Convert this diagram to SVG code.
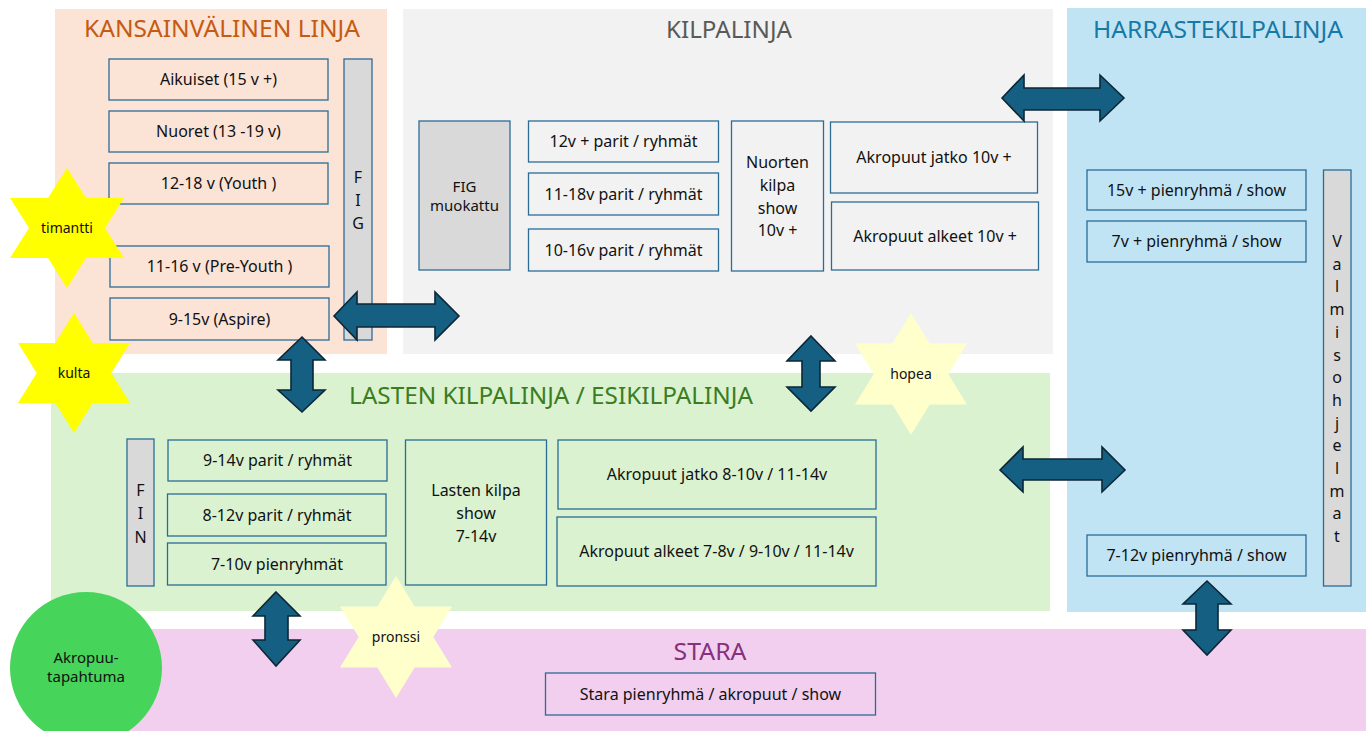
<svg xmlns="http://www.w3.org/2000/svg" width="1370" height="731" viewBox="0 0 1370 731">
<style>
text{font-family:"Noto Sans","Liberation Sans",sans-serif;fill:#111;text-anchor:middle}
.title{font-size:23px}
.bx{fill:none;stroke:#2B6C96;stroke-width:1.3}
.gr{fill:#D9D9D9;stroke:#2B6C96;stroke-width:1.3}
.t{font-size:16px}
.st{font-size:14px}
.arr{fill:#156082;stroke:#0C2636;stroke-width:1.6;stroke-linejoin:miter}
</style>
<rect width="1370" height="731" fill="#FFFFFF"/>
<!-- panels -->
<g id="panel-kansainvalinen">
<rect x="55" y="9" width="332" height="345" fill="#FBE3D6"/>
<text class="title" x="222" y="37" style="fill:#C55A11" textLength="276" lengthAdjust="spacingAndGlyphs">KANSAINVÄLINEN LINJA</text>
</g>
<g id="panel-kilpalinja">
<rect x="403" y="9" width="650" height="345" fill="#F2F2F2"/>
<text class="title" x="729" y="38" style="fill:#595959" textLength="126" lengthAdjust="spacingAndGlyphs">KILPALINJA</text>
</g>
<g id="panel-harraste">
<rect x="1067" y="8" width="299" height="604" fill="#C1E4F5"/>
<text class="title" x="1218" y="38" style="fill:#1779A6" textLength="250" lengthAdjust="spacingAndGlyphs">HARRASTEKILPALINJA</text>
</g>
<g id="panel-lasten">
<rect x="51" y="373" width="999" height="238" fill="#DAF2D0"/>
<text class="title" x="551" y="404" style="fill:#3A7D22" textLength="404" lengthAdjust="spacingAndGlyphs">LASTEN KILPALINJA / ESIKILPALINJA</text>
</g>
<g id="panel-stara">
<rect x="51" y="629" width="1315" height="102" fill="#F2CFEE"/>
<text class="title" x="710" y="660" style="fill:#86307E" textLength="73" lengthAdjust="spacingAndGlyphs">STARA</text>
</g>
<!-- Kansainvalinen boxes -->
<g id="aikuiset"><rect class="bx" x="109" y="59" width="219" height="41"/><text class="t" x="218.5" y="85">Aikuiset (15 v +)</text></g>
<g id="nuoret"><rect class="bx" x="109" y="111" width="219" height="41"/><text class="t" x="218.5" y="137">Nuoret (13 -19 v)</text></g>
<g id="youth"><rect class="bx" x="109" y="163" width="219" height="41"/><text class="t" x="218.5" y="189">12-18 v (Youth )</text></g>
<g id="preyouth"><rect class="bx" x="110" y="246" width="219" height="41"/><text class="t" x="219.5" y="272">11-16 v (Pre-Youth )</text></g>
<g id="aspire"><rect class="bx" x="110" y="298" width="219" height="42"/><text class="t" x="219.5" y="324.5">9-15v (Aspire)</text></g>
<g id="fig"><rect class="gr" x="344" y="59" width="28" height="281"/><text class="t" x="358" y="183">F</text><text class="t" x="358" y="206">I</text><text class="t" x="358" y="229">G</text></g>
<!-- Kilpalinja boxes -->
<g id="fig-muokattu"><rect class="gr" x="419" y="121" width="91" height="149"/><text x="464.5" y="192" style="font-size:15px">FIG</text><text x="464.5" y="211" style="font-size:15px">muokattu</text></g>
<g id="k12"><rect class="bx" x="528.5" y="121" width="190" height="41"/><text class="t" x="623.5" y="147">12v + parit / ryhmät</text></g>
<g id="k11"><rect class="bx" x="528.5" y="173" width="190" height="42"/><text class="t" x="623.5" y="199.5">11-18v parit / ryhmät</text></g>
<g id="k10"><rect class="bx" x="528.5" y="229" width="190" height="42"/><text class="t" x="623.5" y="255.5">10-16v parit / ryhmät</text></g>
<g id="nuorten-show"><rect class="bx" x="731.5" y="121" width="92" height="150"/><text class="t" x="777.5" y="168">Nuorten</text><text class="t" x="777.5" y="191">kilpa</text><text class="t" x="777.5" y="213.5">show</text><text class="t" x="777.5" y="236">10v +</text></g>
<g id="akro-jatko-10"><rect class="bx" x="830.5" y="122" width="207" height="71"/><text class="t" x="934" y="163">Akropuut jatko 10v +</text></g>
<g id="akro-alkeet-10"><rect class="bx" x="831.5" y="202" width="207" height="68"/><text class="t" x="935" y="241.5">Akropuut alkeet 10v +</text></g>
<!-- Harraste boxes -->
<g id="h15"><rect class="bx" x="1087" y="170" width="219" height="40"/><text class="t" x="1196.5" y="195.5">15v + pienryhmä / show</text></g>
<g id="h7"><rect class="bx" x="1087" y="221" width="219" height="41"/><text class="t" x="1196.5" y="246.5">7v + pienryhmä / show</text></g>
<g id="h712"><rect class="bx" x="1087" y="535" width="219" height="41"/><text class="t" x="1196.5" y="560.5">7-12v pienryhmä / show</text></g>
<g id="valmisohjelmat"><rect class="gr" x="1323.5" y="170" width="27.5" height="416"/>
<text class="t" x="1337" y="247">V<tspan x="1337" dy="22.7">a</tspan><tspan x="1337" dy="22.7">l</tspan><tspan x="1337" dy="22.7">m</tspan><tspan x="1337" dy="22.7">i</tspan><tspan x="1337" dy="22.7">s</tspan><tspan x="1337" dy="22.7">o</tspan><tspan x="1337" dy="22.7">h</tspan><tspan x="1337" dy="22.7">j</tspan><tspan x="1337" dy="22.7">e</tspan><tspan x="1337" dy="22.7">l</tspan><tspan x="1337" dy="22.7">m</tspan><tspan x="1337" dy="22.7">a</tspan><tspan x="1337" dy="22.7">t</tspan></text></g>
<!-- Lasten boxes -->
<g id="fin"><rect class="gr" x="127" y="439" width="27" height="147"/><text class="t" x="140.5" y="496">F</text><text class="t" x="140.5" y="519">I</text><text class="t" x="140.5" y="543">N</text></g>
<g id="l914"><rect class="bx" x="168" y="440" width="219" height="41"/><text class="t" x="277.5" y="466">9-14v parit / ryhmät</text></g>
<g id="l812"><rect class="bx" x="167.5" y="494" width="218.5" height="42"/><text class="t" x="277" y="520.5">8-12v parit / ryhmät</text></g>
<g id="l710"><rect class="bx" x="167.5" y="543" width="218.5" height="42"/><text class="t" x="277" y="569.5">7-10v pienryhmät</text></g>
<g id="lasten-show"><rect class="bx" x="405.5" y="440" width="141" height="145"/><text class="t" x="476" y="496">Lasten kilpa</text><text class="t" x="476" y="518.5">show</text><text class="t" x="476" y="541.5">7-14v</text></g>
<g id="akro-jatko-8"><rect class="bx" x="558" y="440" width="318" height="69"/><text class="t" x="717" y="480">Akropuut jatko 8-10v / 11-14v</text></g>
<g id="akro-alkeet-7"><rect class="bx" x="557" y="517" width="319" height="69"/><text class="t" x="716.5" y="557">Akropuut alkeet 7-8v / 9-10v / 11-14v</text></g>
<!-- Stara box -->
<g id="stara-box"><rect class="bx" x="545.5" y="673" width="330" height="42"/><text class="t" x="710.5" y="699.5">Stara pienryhmä / akropuut / show</text></g>
<!-- stars -->
<g id="timantti"><polygon points="67,168 86,198 124,198 105,228 124,258 86,258 67,288 48,258 10,258 29,228 10,198 48,198" fill="#FFFF00"/><text class="st" x="67" y="233">timantti</text></g>
<g id="kulta"><polygon points="74,313 92.7,343 130,343 111.3,373 130,403 92.7,403 74,433 55.3,403 18,403 36.7,373 18,343 55.3,343" fill="#FFFF00"/><text class="st" x="74" y="378">kulta</text></g>
<g id="hopea"><polygon points="911,313 929.7,343.5 967,343.5 948.3,374 967,404.5 929.7,404.5 911,435 892.3,404.5 855,404.5 873.7,374 855,343.5 892.3,343.5" fill="#FFFFCC"/><text class="st" x="911" y="379">hopea</text></g>
<g id="pronssi"><polygon points="396,576 414.7,606.5 452,606.5 433.3,637 452,667.5 414.7,667.5 396,698 377.3,667.5 340,667.5 358.7,637 340,606.5 377.3,606.5" fill="#FFFFCC"/><text class="st" x="396" y="642">pronssi</text></g>
<!-- circle -->
<g id="akropuu-tapahtuma"><circle cx="86" cy="668" r="76" fill="#47D45A"/><text x="86" y="663" style="font-size:15px">Akropuu-</text><text x="86" y="682" style="font-size:15px">tapahtuma</text></g>
<!-- connectors -->
<g id="connectors">
<polygon class="arr" points="334,316 357,292 357,304 435,304 435,292 459,316 435,340 435,327 357,327 357,340"/>
<polygon class="arr" points="302,337 325,360 313,360 313,390 325,390 302,412 278,390 291,390 291,360 278,360"/>
<polygon class="arr" points="811,336 835,361 820,361 820,387 835,387 811,411 787,387 802,387 802,361 787,361"/>
<polygon class="arr" points="1002,98 1024,75 1024,88 1100,88 1100,75 1124,98 1100,121 1100,110 1024,110 1024,121"/>
<polygon class="arr" points="1000,470 1023,447 1023,459 1102,459 1102,447 1125,470 1102,492 1102,480 1023,480 1023,492"/>
<polygon class="arr" points="1207,581 1231,604 1218,604 1218,630 1231,630 1207,655 1183,630 1196,630 1196,604 1183,604"/>
<polygon class="arr" points="276,592 300,616 288,616 288,640 300,640 276,666 253,640 265,640 265,616 253,616"/>
</g>
</svg>
